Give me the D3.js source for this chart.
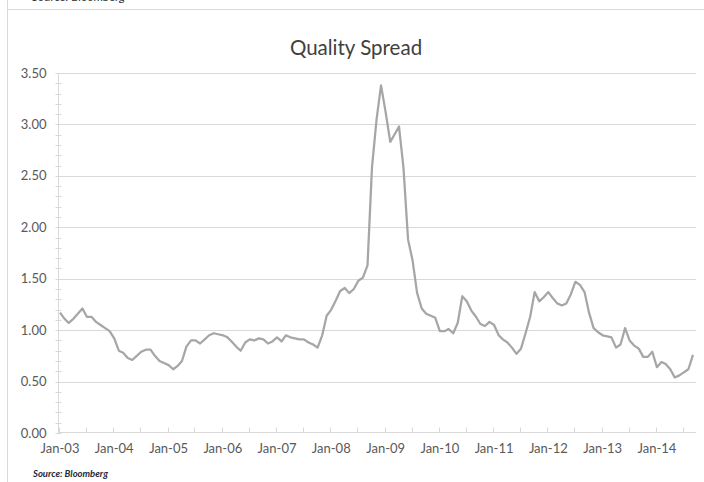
<!DOCTYPE html>
<html>
<head>
<meta charset="utf-8">
<script src="https://cdn.jsdelivr.net/npm/d3@7"></script>
<style>
  body { margin: 0; background: #fff; }
  text { font-family: Lato, "Open Sans", sans-serif; }
</style>
</head>
<body>
<script>
// monthly quality spread, Jan-03 .. Sep-14
var startMonth = "2003-01";
var spread = [
  1.17, 1.11, 1.07, 1.11, 1.16, 1.21, 1.13, 1.13, 1.08, 1.05, 1.02, 0.99,
  0.92, 0.80, 0.78, 0.73, 0.71, 0.75, 0.79, 0.81, 0.81, 0.75, 0.70, 0.68,
  0.66, 0.62, 0.65, 0.70, 0.84, 0.90, 0.90, 0.87, 0.91, 0.95, 0.97, 0.96,
  0.95, 0.93, 0.89, 0.84, 0.80, 0.88, 0.91, 0.90, 0.92, 0.91, 0.87, 0.89,
  0.93, 0.89, 0.95, 0.93, 0.92, 0.91, 0.91, 0.88, 0.86, 0.83, 0.95, 1.14,
  1.20, 1.29, 1.38, 1.41, 1.36, 1.40, 1.48, 1.51, 1.63, 2.58, 3.05, 3.38,
  3.12, 2.83, 2.90, 2.98, 2.58, 1.88, 1.68, 1.36, 1.21, 1.16, 1.14, 1.12,
  0.99, 0.99, 1.01, 0.97, 1.07, 1.33, 1.28, 1.19, 1.13, 1.06, 1.04, 1.08,
  1.05, 0.95, 0.91, 0.88, 0.83, 0.77, 0.82, 0.97, 1.13, 1.37, 1.28, 1.32,
  1.37, 1.31, 1.26, 1.24, 1.26, 1.35, 1.47, 1.44, 1.37, 1.17, 1.02, 0.98,
  0.95, 0.94, 0.93, 0.83, 0.86, 1.02, 0.90, 0.85, 0.82, 0.74, 0.74, 0.79,
  0.64, 0.69, 0.67, 0.62, 0.54, 0.56, 0.59, 0.62, 0.76
];
var yTicks = [0, 0.5, 1, 1.5, 2, 2.5, 3, 3.5];
var title = "Quality Spread";
var source = "Source: Bloomberg";

var width = 704, height = 482;
var plot = {left: 59, right: 696, top: 73, bottom: 433};

var parseMonth = d3.timeParse("%Y-%m");
var start = parseMonth(startMonth);
var months = spread.map(function(d, i) { return d3.timeMonth.offset(start, i); });

var x = d3.scaleTime()
    .domain([months[0], months[months.length - 1]])
    .range([60, 693]);

var y = d3.scaleLinear()
    .domain([0, 3.5])
    .range([plot.bottom, plot.top]);

var svg = d3.select("body").append("svg")
    .attr("width", width)
    .attr("height", height);

// frame bits left over from the slide above
svg.append("line")
    .attr("x1", 7.5).attr("x2", 7.5)
    .attr("y1", 0).attr("y2", height)
    .attr("stroke", "#d9d9d9");
svg.append("line")
    .attr("x1", 7.5).attr("x2", width)
    .attr("y1", 9.5).attr("y2", 9.5)
    .attr("stroke", "#d9d9d9");
svg.append("text")
    .attr("x", 32).attr("y", 1)
    .attr("font-size", 12)
    .attr("font-style", "italic")
    .attr("fill", "#333")
    .text(source);

// gridlines
svg.append("g")
  .selectAll("line")
  .data(yTicks.filter(function(d) { return d > 0; }))
  .enter().append("line")
    .attr("x1", plot.left).attr("x2", plot.right)
    .attr("y1", function(d) { return Math.round(y(d)) + 0.5; })
    .attr("y2", function(d) { return Math.round(y(d)) + 0.5; })
    .attr("stroke", "#d9d9d9");

// y axis with minor ticks
var yMinor = d3.range(0, 3.51, 0.1);
var yAxis = svg.append("g")
    .attr("transform", "translate(" + (plot.left - 0.5) + ",0)");
yAxis.append("line")
    .attr("y1", plot.top).attr("y2", plot.bottom)
    .attr("stroke", "#d9d9d9");
yAxis.selectAll(".minor")
  .data(yMinor)
  .enter().append("line")
    .attr("class", "minor")
    .attr("x1", -3).attr("x2", 3)
    .attr("y1", function(d) { return Math.round(y(d)) + 0.5; })
    .attr("y2", function(d) { return Math.round(y(d)) + 0.5; })
    .attr("stroke", "#d9d9d9");
yAxis.selectAll("text")
  .data(yTicks)
  .enter().append("text")
    .attr("x", -12)
    .attr("y", function(d) { return y(d); })
    .attr("dy", "0.35em")
    .attr("text-anchor", "end")
    .attr("font-size", 13)
    .attr("fill", "#595959")
    .text(d3.format(".2f"));

// x axis
var xAxis = svg.append("g")
    .attr("transform", "translate(0," + (plot.bottom - 0.5) + ")");
xAxis.append("line")
    .attr("x1", plot.left).attr("x2", plot.right)
    .attr("stroke", "#d9d9d9");
xAxis.selectAll(".tick")
  .data(d3.timeMonth.every(6).range(months[0], d3.timeMonth.offset(months[months.length - 1], 1)))
  .enter().append("line")
    .attr("class", "tick")
    .attr("x1", function(d) { return Math.round(x(d)) - 0.5; })
    .attr("x2", function(d) { return Math.round(x(d)) - 0.5; })
    .attr("y1", -5).attr("y2", 0)
    .attr("stroke", "#d9d9d9");
xAxis.selectAll("text")
  .data(d3.timeYear.range(months[0], months[months.length - 1]))
  .enter().append("text")
    .attr("x", function(d) { return x(d); })
    .attr("y", 20)
    .attr("text-anchor", "middle")
    .attr("font-size", 13)
    .attr("fill", "#595959")
    .text(d3.timeFormat("%b-%y"));

// the series
var line = d3.line()
    .x(function(d, i) { return x(months[i]); })
    .y(function(d) { return y(d); });

svg.append("path")
    .datum(spread)
    .attr("d", line)
    .attr("fill", "none")
    .attr("stroke", "#a6a6a6")
    .attr("stroke-width", 2.25)
    .attr("stroke-linejoin", "round");

svg.append("text")
    .attr("x", 356)
    .attr("y", 55)
    .attr("text-anchor", "middle")
    .attr("font-size", 20.5)
    .attr("fill", "#404040")
    .text(title);

svg.append("text")
    .attr("x", 33)
    .attr("y", 477)
    .attr("font-size", 9.5)
    .attr("font-style", "italic")
    .attr("font-weight", "bold")
    .attr("fill", "#1f2a3a")
    .text(source);
</script>
</body>
</html>
